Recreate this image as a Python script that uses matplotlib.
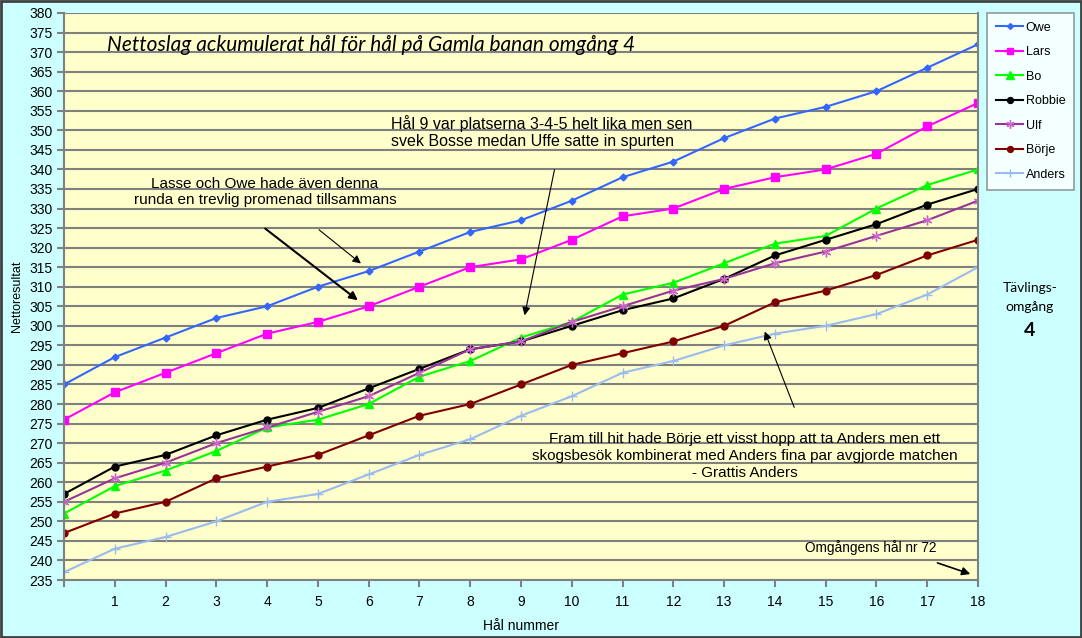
import matplotlib
matplotlib.use("Agg")
import matplotlib.pyplot as plt
from matplotlib.patches import Rectangle

# hål 0..18, nettoslag ackumulerat
holes = list(range(19))
owe    = [285, 292, 297, 302, 305, 310, 314, 319, 324, 327, 332, 338, 342, 348, 353, 356, 360, 366, 372]
lars   = [276, 283, 288, 293, 298, 301, 305, 310, 315, 317, 322, 328, 330, 335, 338, 340, 344, 351, 357]
bo     = [252, 259, 263, 268, 274, 276, 280, 287, 291, 297, 301, 308, 311, 316, 321, 323, 330, 336, 340]
robbie = [257, 264, 267, 272, 276, 279, 284, 289, 294, 296, 300, 304, 307, 312, 318, 322, 326, 331, 335]
ulf    = [255, 261, 265, 270, 274, 278, 282, 288, 294, 296, 301, 305, 309, 312, 316, 319, 323, 327, 332]
borje  = [247, 252, 255, 261, 264, 267, 272, 277, 280, 285, 290, 293, 296, 300, 306, 309, 313, 318, 322]
anders = [237, 243, 246, 250, 255, 257, 262, 267, 271, 277, 282, 288, 291, 295, 298, 300, 303, 308, 315]

plt.rcParams['font.family'] = ['Liberation Sans', 'DejaVu Sans']

fig = plt.figure(figsize=(10.82, 6.38), dpi=100)
fig.patch.set_facecolor('#CCFFFF')
ax = fig.add_axes([64/1082, 1-580/638, 914/1082, 567/638])
ax.set_facecolor('#FFFFCC')

# serier: (namn, data, linjefärg, markör, markörfärg, storlek)
series = [
    ('Owe', owe, '#3366FF', 'D', '#3366FF', 3.5),
    ('Lars', lars, '#FF00FF', 's', '#FF00FF', 5.5),
    ('Bo', bo, '#00FF00', '^', '#00FF00', 6),
    ('Robbie', robbie, '#000000', 'o', '#000000', 5),
    ('Ulf', ulf, '#993399', (6, 2, 0), '#CC66CC', 7),
    ('Börje', borje, '#800000', 'o', '#800000', 5),
    ('Anders', anders, '#99BBEE', '+', '#99BBEE', 7),
]
for name, vals, col, mk, mcol, ms in series:
    ax.plot(holes, vals, color=col, lw=1.5, marker=mk, ms=ms,
            markerfacecolor=mcol, markeredgecolor=mcol, mew=1.0, label=name)

ax.set_xlim(0, 18)
ax.set_ylim(235, 380)
ax.set_yticks(range(235, 381, 5))
ax.set_xticks(holes)
ax.set_xticklabels([''] + [str(h) for h in holes[1:]])
ax.tick_params(axis='both', labelsize=10, color='#808080', length=5, width=1.5)
ax.tick_params(axis='x', pad=6)
ax.tick_params(axis='y', pad=3)
ax.yaxis.grid(True, color='#808080', lw=1.5)
ax.set_axisbelow(True)
for s in ax.spines.values():
    s.set_color('#808080')
    s.set_linewidth(1.5)
ax.spines['top'].set_visible(False)

ax.set_xlabel('Hål nummer', fontsize=10, labelpad=7)
ax.set_ylabel('Nettoresultat', fontsize=9, labelpad=5)

ax.text(0.85, 371.8, 'Nettoslag ackumulerat hål för hål på Gamla banan omgång 4',
        fontsize=15, style='italic', family=['Lato', 'DejaVu Sans'], va='center', ha='left')

ax.text(3.96, 334.2, 'Lasse och Owe hade även denna\nrunda en trevlig promenad tillsammans',
        fontsize=11, ha='center', va='center', linespacing=1.25)
ax.text(6.44, 349.6, 'Hål 9 var platserna 3-4-5 helt lika men sen\nsvek Bosse medan Uffe satte in spurten',
        fontsize=11.5, ha='left', va='center', linespacing=1.2)
ax.text(13.41, 266.7, 'Fram till hit hade Börje ett visst hopp att ta Anders men ett\n'
        'skogsbesök kombinerat med Anders fina par avgjorde matchen\n- Grattis Anders',
        fontsize=11, ha='center', va='center', linespacing=1.25)
ax.text(14.59, 243.4, 'Omgångens hål nr 72', fontsize=9.8, ha='left', va='center')

arrows = [
    ((3.92, 325.3), (5.83, 306.1), 1.5),
    ((4.98, 325.0), (5.89, 315.5), 0.8),
    ((9.67, 340.6), (9.06, 302.0), 0.8),
    ((14.4, 278.5), (13.78, 299.2), 0.8),
    ((17.15, 239.6), (17.9, 236.3), 1.2),
]
for start, end, w in arrows:
    ax.annotate('', xy=end, xytext=start,
                arrowprops=dict(arrowstyle='-|>', color='black', lw=w, mutation_scale=12))

fig.text(1030/1082, 1-288/638, 'Tävlings-', fontsize=10, ha='center', va='center',
         family=['Lato', 'DejaVu Sans'])
fig.text(1030/1082, 1-307/638, 'omgång', fontsize=10, ha='center', va='center',
         family=['Lato', 'DejaVu Sans'])
fig.text(1030/1082, 1-330/638, '4', fontsize=14, ha='center', va='center', weight='bold',
         family=['Lato', 'DejaVu Sans'])

leg = ax.legend(loc='upper left', bbox_to_anchor=(987/1082, 1-13/638), bbox_transform=fig.transFigure,
                fontsize=9, frameon=True, fancybox=False, handlelength=2.2, labelspacing=1.0,
                borderpad=0.7, handletextpad=0.2, borderaxespad=0, markerscale=0.85)
leg.get_frame().set_edgecolor('#808080')
leg.get_frame().set_linewidth(1.2)

fig.patches.append(Rectangle((0.001, 0.001), 0.998, 0.997, transform=fig.transFigure,
                             fill=False, edgecolor='#404040', lw=2))

fig.savefig('out.png', dpi=100, facecolor=fig.get_facecolor())
